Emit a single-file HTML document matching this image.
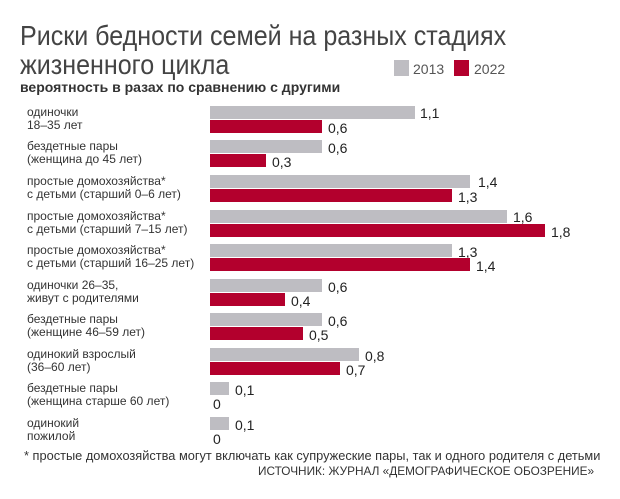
<!DOCTYPE html>
<html><head><meta charset="utf-8"><style>
body{margin:0;background:#fff;width:620px;height:499px;position:relative;overflow:hidden;font-family:"Liberation Sans","DejaVu Sans",sans-serif}
.t{position:absolute;left:20px;font-size:28px;color:#444;font-weight:normal;line-height:1;transform:scaleX(0.895);transform-origin:0 0;white-space:nowrap}
.a{position:absolute;white-space:nowrap}
.l{position:absolute;left:27px;font-size:12px;line-height:13px;color:#333}
.g{position:absolute;left:210px;height:13px;background:#bebdc2}
.r{position:absolute;left:210px;height:13px;background:#b3002d}
.v{position:absolute;font-size:14px;color:#222;line-height:14px}
</style></head><body>
<div class="t" style="top:22px">Риски бедности семей на разных стадиях</div>
<div class="t" style="top:51px">жизненного цикла</div>
<div class="a" style="left:394px;top:60px;width:15px;height:16px;background:#bebdc2"></div>
<div class="a" style="left:413px;top:61px;font-size:14px;color:#555">2013</div>
<div class="a" style="left:454px;top:60px;width:15px;height:16px;background:#b3002d"></div>
<div class="a" style="left:474px;top:61px;font-size:14px;color:#555">2022</div>
<div class="a" style="left:20px;top:79px;font-size:14px;font-weight:bold;color:#333">вероятность в разах по сравнению с другими</div>

<div class="l" style="top:106px">одиночки<br>18–35 лет</div>
<div class="g" style="top:106px;width:205px"></div><div class="v" style="left:420px;top:106px">1,1</div>
<div class="r" style="top:120px;width:112px"></div><div class="v" style="left:328px;top:121px">0,6</div>

<div class="l" style="top:140px">бездетные пары<br>(женщина до 45 лет)</div>
<div class="g" style="top:140px;width:112px"></div><div class="v" style="left:328px;top:141px">0,6</div>
<div class="r" style="top:154px;width:56px"></div><div class="v" style="left:272px;top:155px">0,3</div>

<div class="l" style="top:175px">простые домохозяйства*<br>с детьми (старший 0–6 лет)</div>
<div class="g" style="top:175px;width:260px"></div><div class="v" style="left:478px;top:175px">1,4</div>
<div class="r" style="top:189px;width:242px"></div><div class="v" style="left:458px;top:190px">1,3</div>

<div class="l" style="top:210px">простые домохозяйства*<br>с детьми (старший 7–15 лет)</div>
<div class="g" style="top:210px;width:297px"></div><div class="v" style="left:513px;top:210px">1,6</div>
<div class="r" style="top:224px;width:335px"></div><div class="v" style="left:551px;top:225px">1,8</div>

<div class="l" style="top:244px">простые домохозяйства*<br>с детьми (старший 16–25 лет)</div>
<div class="g" style="top:244px;width:242px"></div><div class="v" style="left:458px;top:245px">1,3</div>
<div class="r" style="top:258px;width:260px"></div><div class="v" style="left:476px;top:259px">1,4</div>

<div class="l" style="top:279px">одиночки 26–35,<br>живут с родителями</div>
<div class="g" style="top:279px;width:112px"></div><div class="v" style="left:328px;top:280px">0,6</div>
<div class="r" style="top:293px;width:75px"></div><div class="v" style="left:291px;top:294px">0,4</div>

<div class="l" style="top:313px">бездетные пары<br>(женщине 46–59 лет)</div>
<div class="g" style="top:313px;width:112px"></div><div class="v" style="left:328px;top:314px">0,6</div>
<div class="r" style="top:327px;width:93px"></div><div class="v" style="left:309px;top:328px">0,5</div>

<div class="l" style="top:348px">одинокий взрослый<br>(36–60 лет)</div>
<div class="g" style="top:348px;width:149px"></div><div class="v" style="left:365px;top:349px">0,8</div>
<div class="r" style="top:362px;width:130px"></div><div class="v" style="left:346px;top:363px">0,7</div>

<div class="l" style="top:382px">бездетные пары<br>(женщина старше 60 лет)</div>
<div class="g" style="top:382px;width:19px"></div><div class="v" style="left:235px;top:383px">0,1</div>
<div class="v" style="left:213px;top:397px">0</div>

<div class="l" style="top:417px">одинокий<br>пожилой</div>
<div class="g" style="top:417px;width:19px"></div><div class="v" style="left:235px;top:418px">0,1</div>
<div class="v" style="left:213px;top:432px">0</div>

<div class="a" style="left:24px;top:448px;font-size:12.8px;color:#333">* простые домохозяйства могут включать как супружеские пары, так и одного родителя с детьми</div>
<div class="a" style="left:258px;top:464px;font-size:11.8px;color:#333">ИСТОЧНИК: ЖУРНАЛ «ДЕМОГРАФИЧЕСКОЕ ОБОЗРЕНИЕ»</div>
</body></html>
